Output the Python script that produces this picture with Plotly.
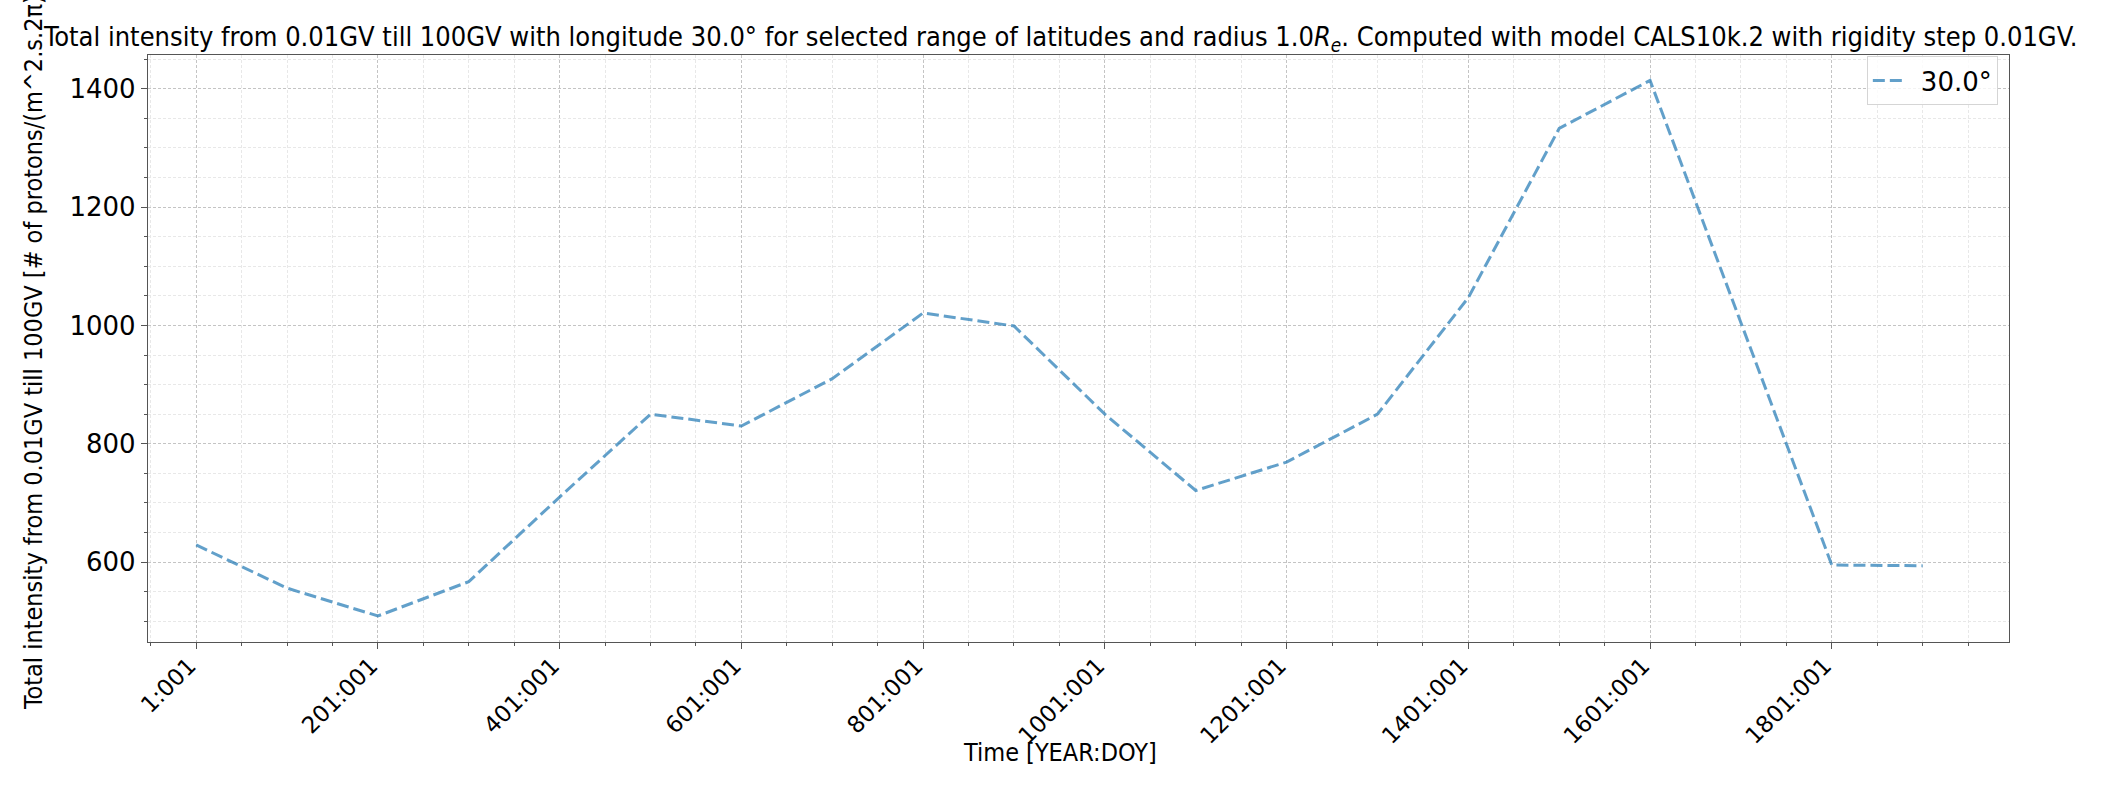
import plotly.graph_objects as go

# ---- data ----
years = [1, 101, 201, 301, 401, 501, 601, 701, 801, 901,
         1001, 1101, 1201, 1301, 1401, 1501, 1601, 1701, 1801, 1901]
intensity = [629, 556, 509, 567, 710, 850, 830, 910, 1021, 999,
             850, 721, 769, 850, 1047, 1333, 1414, 1005, 595, 594]
series_name = "30.0°"
tick_vals = [1, 201, 401, 601, 801, 1001, 1201, 1401, 1601, 1801]
tick_text = ["1:001", "201:001", "401:001", "601:001", "801:001",
             "1001:001", "1201:001", "1401:001", "1601:001", "1801:001"]
y_ticks = [600, 800, 1000, 1200, 1400]

title_text = ("Total intensity from 0.01GV till 100GV with longitude 30.0° for selected range of "
              "latitudes and radius 1.0<i>R</i><sub><i>e</i></sub>. Computed with model CALS10k.2 "
              "with rigidity step 0.01GV.")
ylabel = "Total intensity from 0.01GV till 100GV [# of protons/(m^2.s.2π)]"
xlabel = "Time [YEAR:DOY]"

W, H = 2103, 785
L, R, T, B = 147.5, 94, 55, 143
PW, PH = W - L - R, H - T - B

cond = "DejaVu Sans Condensed, Liberation Sans Narrow, DejaVu Sans"
reg = "DejaVu Sans"

fig = go.Figure()
fig.add_trace(go.Scatter(
    x=years, y=intensity, mode="lines", name="\u2002" + series_name,
    line=dict(color="rgba(31,119,180,0.7)", width=3, dash="12px,5px"),
))

axis_common = dict(
    showline=True, mirror=True, linecolor="#555", linewidth=1.3,
    ticks="outside", ticklen=6, tickwidth=1.2, tickcolor="#555",
    showgrid=True, gridcolor="#c4c4c4", griddash="3px,2px", gridwidth=0.9,
    zeroline=False,
)

fig.update_layout(
    width=W, height=H,
    margin=dict(l=L, r=R, t=T, b=B, autoexpand=False),
    paper_bgcolor="white", plot_bgcolor="white",
    showlegend=True,
    legend=dict(
        x=0.994, y=0.998, xanchor="right", yanchor="top",
        bgcolor="rgba(255,255,255,0.8)", bordercolor="#d5d5d5", borderwidth=1,
        font=dict(family=reg, size=26, color="black"),
    ),
    xaxis=dict(
        **axis_common,
        tickfont=dict(family=reg, size=23, color="black"),
        range=[-52, 1996],
        tickmode="array", tickvals=tick_vals, ticktext=tick_text,
        tickangle=-45,
        ticklabelshift=-7, ticklabelstandoff=-6,
        minor=dict(dtick=50, tick0=1, showgrid=True, gridcolor="#e8e8e8",
                   griddash="3px,2px", gridwidth=0.8,
                   ticks="outside", ticklen=3, tickcolor="#555"),
    ),
    yaxis=dict(
        **axis_common,
        tickfont=dict(family=reg, size=26, color="black"),
        range=[465, 1457],
        tickmode="array", tickvals=y_ticks,
        minor=dict(dtick=50, tick0=0, showgrid=True, gridcolor="#e8e8e8",
                   griddash="3px,2px", gridwidth=0.8,
                   ticks="outside", ticklen=3, tickcolor="#555"),
    ),
    annotations=[
        dict(text=title_text, xref="paper", yref="paper",
             x=(1060 - L) / PW, y=1 + (T - 38) / PH,
             xanchor="center", yanchor="middle", showarrow=False,
             font=dict(family=cond, size=27, color="black")),
        dict(text=ylabel, xref="paper", yref="paper",
             x=-(L - 33) / PW, y=0.5,
             xanchor="center", yanchor="middle", textangle=-90, showarrow=False,
             font=dict(family=cond, size=25, color="black")),
        dict(text=xlabel, xref="paper", yref="paper",
             x=(1060 - L) / PW, y=-(752 - (H - B)) / PH,
             xanchor="center", yanchor="middle", showarrow=False,
             font=dict(family=cond, size=25, color="black")),
    ],
)

fig.write_html("out.html")
